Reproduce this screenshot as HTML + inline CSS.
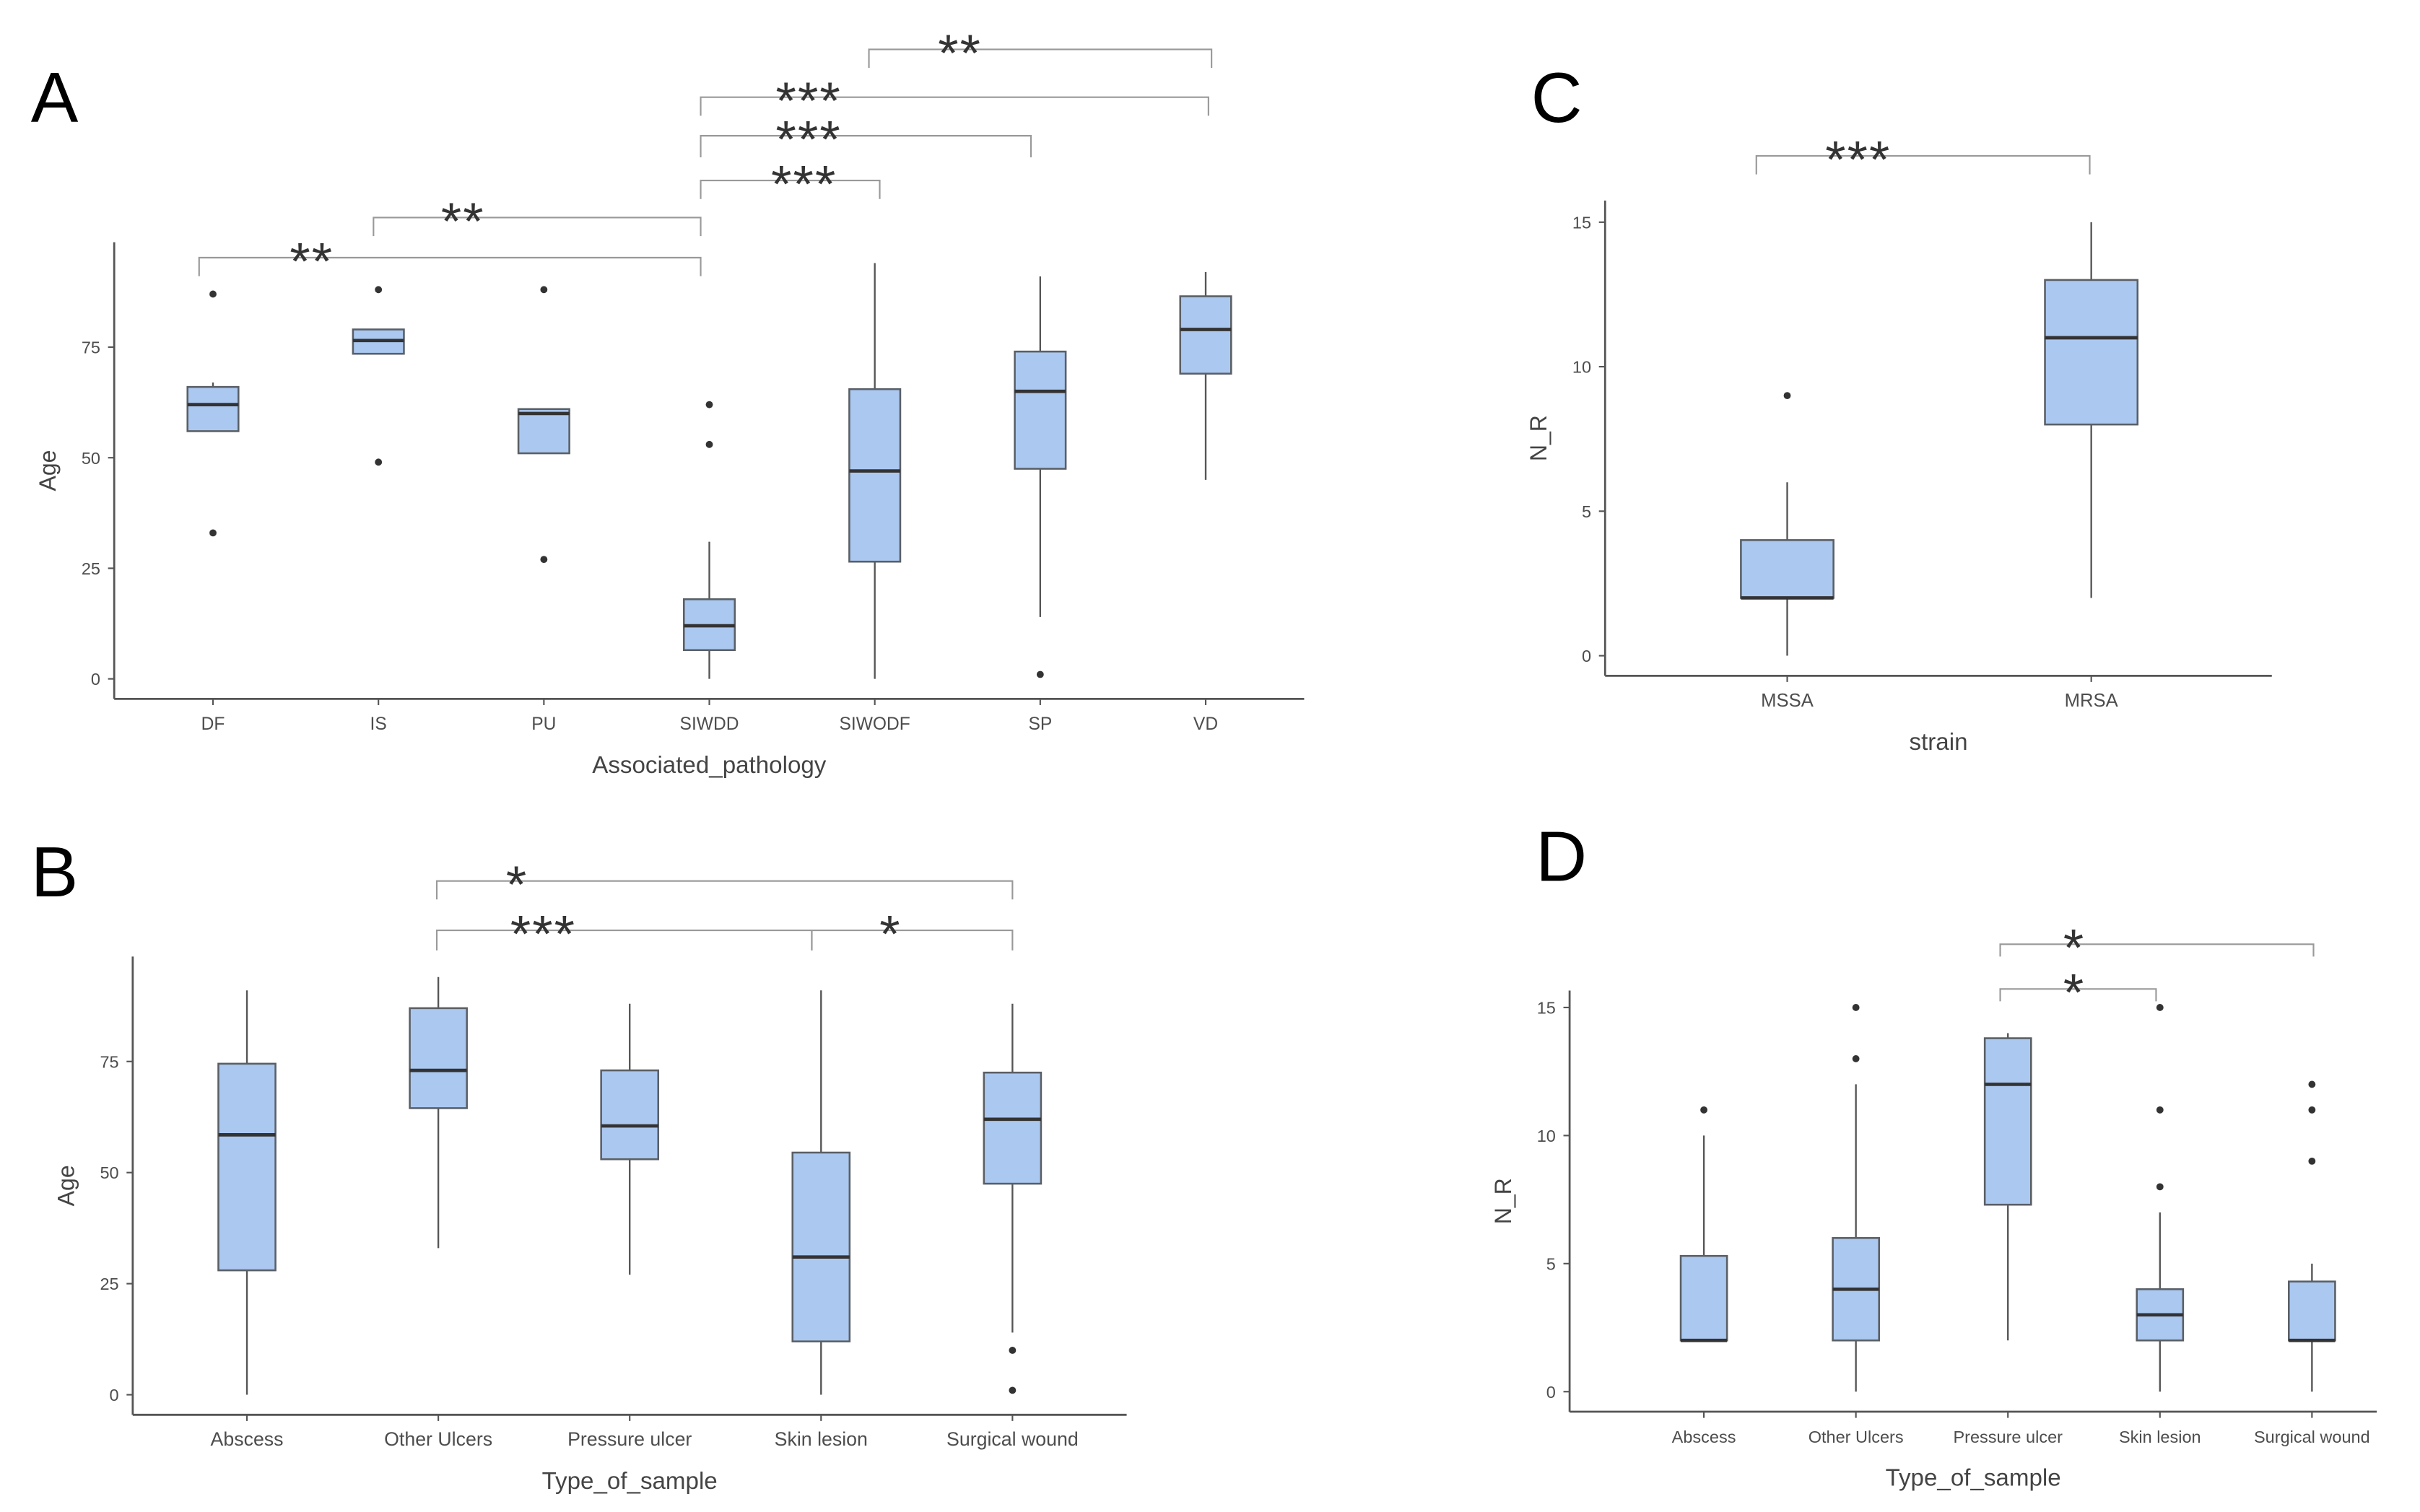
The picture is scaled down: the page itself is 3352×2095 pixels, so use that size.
<!DOCTYPE html>
<html><head><meta charset="utf-8"><style>
html,body{margin:0;padding:0;background:#fff;}
svg{display:block;}
text{font-family:"Liberation Sans",sans-serif;}
</style></head><body>
<svg id="chart" width="3352" height="2095" viewBox="0 0 1568 980" preserveAspectRatio="none" xmlns="http://www.w3.org/2000/svg"></svg>
<script>
// Panel A data
const aCats = ["DF","IS","PU","SIWDD","SIWODF","SP","VD"];
const aLo  = [56,73.5,51,0,0,14,45];
const aQ1  = [56,73.5,51,6.5,26.5,47.5,69];
const aMed = [62,76.5,60,12,47,65,79];
const aQ3  = [66,79,61,18,65.5,74,86.5];
const aHi  = [67,79,61,31,94,91,92];
const aOut = [[87,33],[88,49],[88,27],[53,62],[],[1],[]];
const aTicks = [0,25,50,75];
// Panel B data
const bCats = ["Abscess","Other Ulcers","Pressure ulcer","Skin lesion","Surgical wound"];
const bLo  = [0,33,27,0,14];
const bQ1  = [28,64.5,53,12,47.5];
const bMed = [58.5,73,60.5,31,62];
const bQ3  = [74.5,87,73,54.5,72.5];
const bHi  = [91,94,88,91,88];
const bOut = [[],[],[],[],[10,1]];
const bTicks = [0,25,50,75];
// Panel C data
const cCats = ["MSSA","MRSA"];
const cLo  = [0,2];
const cQ1  = [2,8];
const cMed = [2,11];
const cQ3  = [4,13];
const cHi  = [6,15];
const cOut = [[9],[]];
const cTicks = [0,5,10,15];
// Panel D data
const dCats = ["Abscess","Other Ulcers","Pressure ulcer","Skin lesion","Surgical wound"];
const dLo  = [2,0,2,0,0];
const dQ1  = [2,2,7.3,2,2];
const dMed = [2,4,12,3,2];
const dQ3  = [5.3,6,13.8,4,4.3];
const dHi  = [10,12,14,7,5];
const dOut = [[11],[13,15],[],[8,11,15],[9,11,12]];
const dTicks = [0,5,10,15];

const svg = document.getElementById('chart');
const NS = 'http://www.w3.org/2000/svg';
function mk(tag, attrs, parent){
  const e = document.createElementNS(NS, tag);
  for (const k in attrs) e.setAttribute(k, attrs[k]);
  (parent||svg).appendChild(e);
  return e;
}

function panel(cfg){
  const g = mk('g', {});
  
  
  const yS = v => cfg.y0 + (cfg.yTop - cfg.y0) * (v - 0) / cfg.vTop;
  const xS = i => cfg.xFirst + i * cfg.step;
  const L = mk('text', {x: cfg.letterX, y: cfg.letterY, 'font-size': 46, fill: '#000'}, g);
  L.textContent = cfg.id;
  
  
  const ya = mk('line', {x1: cfg.ax, y1: cfg.axTop, x2: cfg.ax, y2: cfg.axB, stroke: '#555', 'stroke-width': 1.3}, g);
  
  
  const xa = mk('line', {x1: cfg.ax, y1: cfg.axB, x2: cfg.axR, y2: cfg.axB, stroke: '#555', 'stroke-width': 1.3}, g);
  
  
  cfg.ticks.forEach(t => {
    const y = yS(t);
    mk('line', {x1: cfg.ax - 4, y1: y, x2: cfg.ax, y2: y, stroke: '#555', 'stroke-width': 1}, g);
    const tl = mk('text', {x: cfg.ax - 9, y: y + 4, 'font-size': 11, fill: '#4d4d4d', 'text-anchor': 'end'}, g);
    tl.textContent = t;
    
    
  });
  const yt = mk('text', {x: 0, y: 0, 'font-size': 15, fill: '#444', 'text-anchor': 'middle', transform: 'translate(' + (cfg.ax - 38) + ',' + ((cfg.axTop + cfg.axB) / 2) + ') rotate(-90)'}, g);
  yt.textContent = cfg.yTitle;
  
  
  const xt = mk('text', {x: (cfg.ax + cfg.axR) / 2, y: cfg.axB + 48, 'font-size': 15.5, fill: '#444', 'text-anchor': 'middle'}, g);
  xt.textContent = cfg.xTitle;
  
  
  cfg.cats.forEach((c, i) => {
    const x = xS(i), hw = cfg.bw / 2;
    mk('line', {x1: x, y1: cfg.axB, x2: x, y2: cfg.axB + 4, stroke: '#555', 'stroke-width': 1}, g);
    const cl = mk('text', {x: x, y: cfg.axB + 20, 'font-size': cfg.catFs, fill: '#4d4d4d', 'text-anchor': 'middle'}, g);
    cl.textContent = c;
    
    
    const wl = mk('line', {x1: x, y1: yS(cfg.lo[i]), x2: x, y2: yS(cfg.hi[i]), stroke: '#555', 'stroke-width': 1.1}, g);
    
    
    const bx = mk('rect', {x: x - hw, y: yS(cfg.q3[i]), width: cfg.bw, height: Math.max(1, yS(cfg.q1[i]) - yS(cfg.q3[i])), fill: '#abc8f0', stroke: '#5a5f66', 'stroke-width': 1.2}, g);
    
    
    const md = mk('line', {x1: x - hw, y1: yS(cfg.med[i]), x2: x + hw, y2: yS(cfg.med[i]), stroke: '#333', 'stroke-width': 2.2}, g);
    
    
    cfg.out[i].forEach(v => {
      const p = mk('circle', {cx: x, cy: yS(v), r: 2.3, fill: '#333'}, g);
      
      
    });
  });
  cfg.brackets.forEach(b => {
    const x1 = b[0], x2 = b[1], y = b[2], leg = b[3];
    const br = mk('path', {d: 'M' + x1 + ',' + (y + leg) + 'V' + y + 'H' + x2 + 'V' + (y + leg), fill: 'none', stroke: '#999', 'stroke-width': 1}, g);
    
    
    const st = mk('text', {x: b[4], y: y + 14, 'font-size': 34, fill: '#333', 'text-anchor': 'middle', 'letter-spacing': 1, 'font-family': '"DejaVu Sans",sans-serif'}, g);
    st.textContent = b[5];
    
    
  });
}

panel({id:'A', letterX:20, letterY:79, ax:74, axTop:157, axB:453, axR:845, y0:440, yTop:225, vTop:75,
  xFirst:138, step:107.2, bw:33, catFs:11.5, ticks:aTicks, yTitle:'Age', xTitle:'Associated_pathology',
  cats:aCats, lo:aLo, q1:aQ1, med:aMed, q3:aQ3, hi:aHi, out:aOut,
  brackets:[[129,454,167,12,202,'**'],[242,454,141,12,300,'**'],[454,570,117,12,521,'***'],[454,668,88,14,524,'***'],[454,783,63,12,524,'***'],[563,785,32,12,622,'**']]});
panel({id:'B', letterX:20, letterY:581, ax:86, axTop:620, axB:917, axR:730, y0:904, yTop:688, vTop:75,
  xFirst:160, step:124, bw:37, catFs:12.5, ticks:bTicks, yTitle:'Age', xTitle:'Type_of_sample',
  cats:bCats, lo:bLo, q1:bQ1, med:bMed, q3:bQ3, hi:bHi, out:bOut,
  brackets:[[283,656,571,12,335,'*'],[283,526,603,13,352,'***'],[526,656,603,13,577,'*']]});
panel({id:'C', letterX:992, letterY:79, ax:1040, axTop:130, axB:438, axR:1472, y0:425, yTop:144, vTop:15,
  xFirst:1158, step:197, bw:60, catFs:12, ticks:cTicks, yTitle:'N_R', xTitle:'strain',
  cats:cCats, lo:cLo, q1:cQ1, med:cMed, q3:cQ3, hi:cHi, out:cOut,
  brackets:[[1138,1354,101,12,1204,'***']]});
panel({id:'D', letterX:995, letterY:571, ax:1017, axTop:642, axB:915, axR:1540, y0:902, yTop:653, vTop:15,
  xFirst:1104, step:98.5, bw:30, catFs:11, ticks:dTicks, yTitle:'N_R', xTitle:'Type_of_sample',
  cats:dCats, lo:dLo, q1:dQ1, med:dMed, q3:dQ3, hi:dHi, out:dOut,
  brackets:[[1296,1499,612,8,1344,'*'],[1296,1397,641,8,1344,'*']]});
</script>
</body></html>
